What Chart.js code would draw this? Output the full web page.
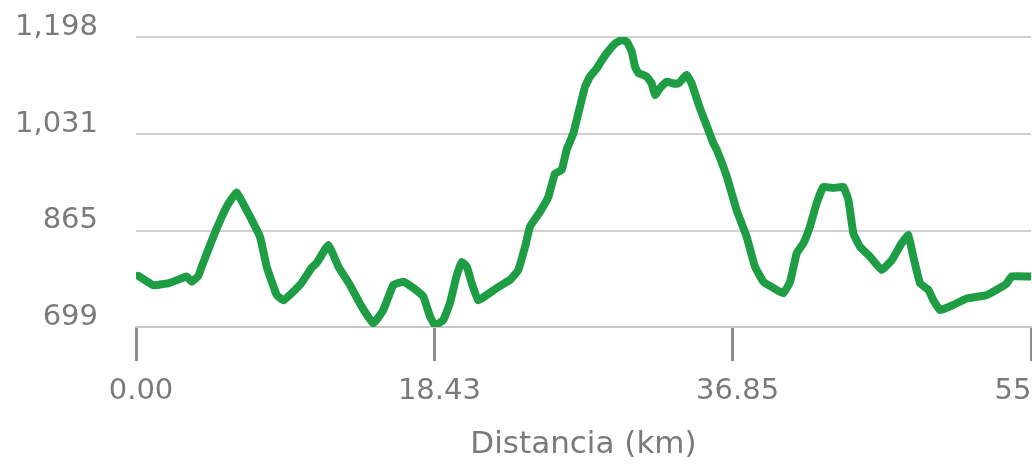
<!DOCTYPE html>
<html>
<head>
<meta charset="utf-8">
<script src="https://cdn.jsdelivr.net/npm/chart.js@4/dist/chart.umd.min.js"></script>
<style>
    html, body { margin: 0; padding: 0; background: #fff; overflow: hidden; }
    #wrap { width: 1132px; height: 464px; }
</style>
</head>
<body>
<div id="wrap"><canvas id="chartCanvas"></canvas></div>
<script>
// 距离 (km)
const distKm = [
    0.15, 1.07, 2.10, 3.13, 3.44, 3.85, 4.06, 4.77, 5.60, 6.22,
    7.66, 8.07, 8.69, 9.10, 9.72, 10.23, 10.85, 11.16, 11.88, 12.50,
    13.22, 13.94, 14.66, 15.27, 15.89, 16.51, 17.13, 17.75, 18.16, 18.47,
    18.98, 19.39, 19.81, 20.12, 20.43, 20.74, 21.14, 21.66, 22.28, 23.10,
    23.61, 24.03, 24.34, 24.95, 25.47, 25.88, 26.29, 26.60, 27.01, 27.42,
    27.73, 28.04, 28.46, 28.66, 29.07, 29.59, 30.00, 30.31, 30.62, 30.82,
    31.03, 31.54, 31.85, 32.06, 32.37, 32.78, 33.19, 33.50, 34.01, 34.32,
    34.84, 35.35, 35.66, 35.87, 36.49, 37.10, 37.72, 38.23, 38.75, 39.26,
    39.98, 40.40, 40.81, 41.22, 41.63, 42.04, 42.45, 43.07, 43.69, 44.00,
    44.31, 44.72, 45.34, 46.06, 46.68, 47.29, 47.70, 48.01, 48.43, 48.94,
    49.25, 49.66, 50.48, 51.31, 52.54, 53.16, 53.78, 54.09, 55.28
];

// 海拔 (m)
const elevM = [
    787, 771, 775, 786, 777, 787, 803, 854, 906, 930,
    854, 803, 754, 745, 760, 775, 801, 809, 840, 803,
    771, 734, 705, 728, 771, 777, 766, 751, 717, 702,
    711, 740, 788, 811, 803, 774, 745, 754, 766, 780,
    797, 837, 872, 897, 923, 963, 969, 1004, 1032, 1078,
    1112, 1130, 1144, 1153, 1170, 1187, 1193, 1190, 1173, 1147,
    1136, 1130, 1118, 1098, 1110, 1121, 1118, 1118, 1133, 1118,
    1075, 1038, 1015, 1004, 958, 900, 854, 803, 777, 768,
    757, 777, 826, 843, 872, 912, 940, 938, 940, 918,
    860, 837, 820, 797, 814, 843, 857, 820, 774, 763,
    745, 728, 737, 748, 754, 763, 774, 786, 786
];

// 坐标轴刻度
const xTicks = [0, 18.43, 36.85, 55.28];
const yTicks = [699, 865, 1031, 1198];

const textColor = '#7a7a7a';
const fontFamily = '"DejaVu Sans", sans-serif';

onload = () => {
    const ctx = document.getElementById('chartCanvas').getContext('2d');

    const points = distKm.map((d, i) => ({ x: d, y: elevM[i] }));

    window.chartInstance = new Chart(ctx, {
        type: 'line',
        data: {
            datasets: [
                {
                    label: 'Altitud',
                    data: points,
                    borderColor: '#1f9d45',
                    borderWidth: 8,
                    borderJoinStyle: 'round',
                    borderCapStyle: 'round',
                    pointRadius: 0,
                    tension: 0.1,
                    fill: false
                }
            ]
        },
        options: {
            responsive: true,
            maintainAspectRatio: false,
            animation: false,
            layout: {
                padding: { left: 0, top: 37, right: 101, bottom: 0 }
            },
            plugins: {
                legend: { display: false },
                tooltip: { enabled: false }
            },
            scales: {
                x: {
                    type: 'linear',
                    min: xTicks[0],
                    max: xTicks[xTicks.length - 1],
                    afterBuildTicks: scale => {
                        scale.ticks = xTicks.map(v => ({ value: v }));
                    },
                    afterFit: scale => {
                        scale.height = 137;
                    },
                    ticks: {
                        color: textColor,
                        font: { family: fontFamily, size: 29 },
                        padding: 13,
                        labelOffset: 5,
                        maxRotation: 0,
                        callback: value => Number(value).toFixed(2)
                    },
                    grid: {
                        drawOnChartArea: false,
                        drawTicks: true,
                        tickLength: 34,
                        tickColor: '#8c8c8c',
                        tickWidth: 3
                    },
                    border: {
                        display: true,
                        color: '#c8c8c8',
                        width: 2
                    },
                    title: {
                        display: true,
                        text: 'Distancia (km)',
                        color: textColor,
                        font: { family: fontFamily, size: 31 },
                        padding: { top: 19, bottom: 0 }
                    }
                },
                y: {
                    min: yTicks[0],
                    max: yTicks[yTicks.length - 1],
                    afterBuildTicks: scale => {
                        scale.ticks = yTicks.map(v => ({ value: v }));
                    },
                    afterFit: scale => {
                        scale.width = 136;
                    },
                    ticks: {
                        color: textColor,
                        font: { family: fontFamily, size: 29 },
                        padding: 0,
                        labelOffset: -10,
                        callback: value => Number(value).toLocaleString('en-US')
                    },
                    grid: {
                        color: '#d0d0d0',
                        lineWidth: 2,
                        // 透明刻度线，仅用来留出标签与网格线之间的空隙
                        drawTicks: true,
                        tickLength: 38,
                        tickColor: 'rgba(0,0,0,0)'
                    },
                    border: { display: false }
                }
            }
        }
    });
}
</script>
</body>
</html>
